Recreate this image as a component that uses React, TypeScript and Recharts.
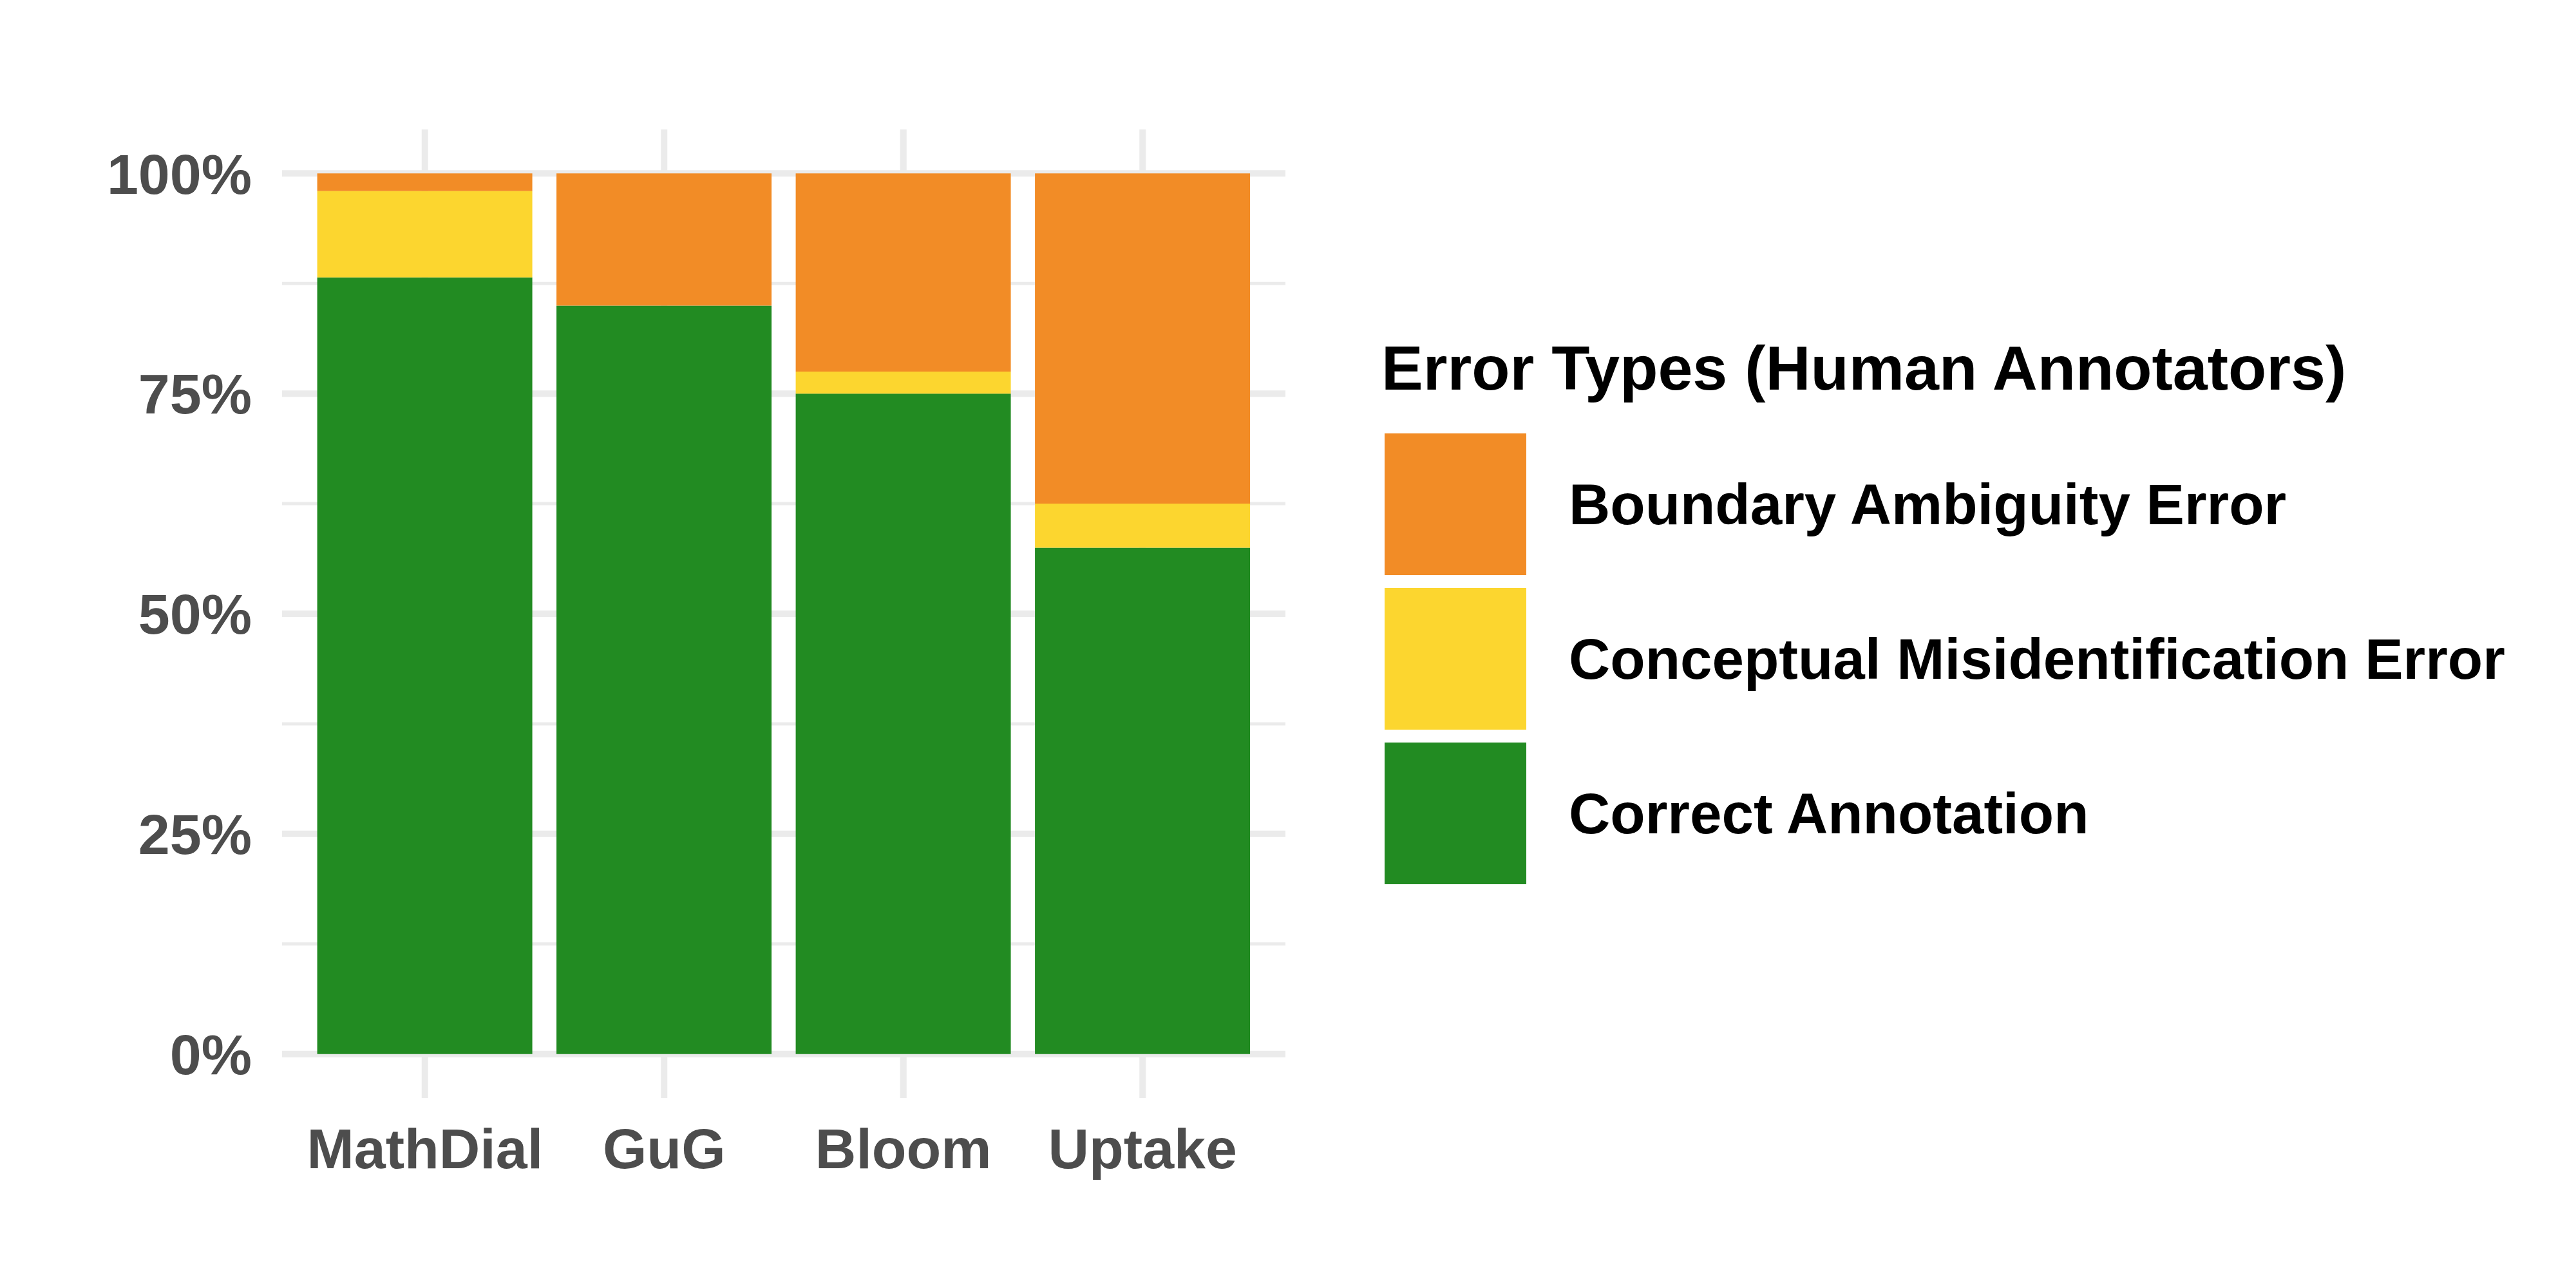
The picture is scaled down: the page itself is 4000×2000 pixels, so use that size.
import { Bar, BarChart, CartesianGrid, Legend, XAxis, YAxis } from "recharts";

const categories = ["MathDial", "GuG", "Bloom", "Uptake"];
const correctAnnotation = [88.2, 85, 75, 57.5];
const conceptualError = [9.8, 0, 2.5, 5];
const boundaryError = [2, 15, 22.5, 37.5];

const majorTicks = [0, 25, 50, 75, 100];
const minorTicks = [12.5, 37.5, 62.5, 87.5];

const FONT = "'Liberation Sans', Arial, Helvetica, sans-serif";
const GRID = "#ebebeb";

const data = categories.map((name, i) => ({
    name,
    correct: correctAnnotation[i],
    conceptual: conceptualError[i],
    boundary: boundaryError[i],
}));

// bottom of the stack first
const series = [
    { key: "correct", label: "Correct Annotation", color: "#228B22" },
    { key: "conceptual", label: "Conceptual Misidentification Error", color: "#FCD62F" },
    { key: "boundary", label: "Boundary Ambiguity Error", color: "#F28C26" },
];

function LegendBox(props: any) {
    // ggplot lists the top of the stack first
    const order = (v: string) => series.findIndex((s) => s.label === v);
    const items = [...(props.payload || [])].sort((a, b) => order(b.value) - order(a.value));
    return (
        <div style={{ position: "relative", width: 1800, height: 900, fontFamily: FONT, color: "#000" }}>
            <div
                style={{
                    position: "absolute",
                    left: 0,
                    top: 0,
                    fontSize: 97,
                    fontWeight: 700,
                    lineHeight: "97px",
                    whiteSpace: "nowrap",
                }}
            >
                Error Types (Human Annotators)
            </div>
            {items.map((entry: any, i: number) => (
                <div
                    key={`item-${i}`}
                    style={{
                        position: "absolute",
                        left: 5,
                        top: 150 + 240 * i,
                        height: 220,
                        display: "flex",
                        alignItems: "center",
                        whiteSpace: "nowrap",
                    }}
                >
                    <div style={{ width: 220, height: 220, background: entry.color }} />
                    <span style={{ marginLeft: 66, fontSize: 89, fontWeight: 700, lineHeight: "89px" }}>
                        {entry.value}
                    </span>
                </div>
            ))}
        </div>
    );
}

export default function App() {
    return (
        <div style={{ position: "absolute", left: 0, top: 0, background: "#fff" }}>
            <BarChart
                width={4000}
                height={2000}
                data={data}
                margin={{ top: 201, right: 2004, bottom: 0, left: 0 }}
                barCategoryGap="5%"
                style={{ fontFamily: FONT }}
            >
                <CartesianGrid
                    stroke={GRID}
                    strokeWidth={5}
                    vertical={false}
                    horizontalValues={minorTicks}
                    syncWithTicks
                />
                <CartesianGrid stroke={GRID} strokeWidth={10} horizontalValues={majorTicks} syncWithTicks />
                <XAxis
                    dataKey="name"
                    height={295}
                    axisLine={false}
                    tickLine={false}
                    tickSize={0}
                    tickMargin={47}
                    padding={{ left: 36, right: 36 }}
                    interval={0}
                    tick={{ fontSize: 88, fontWeight: 700, fill: "#4d4d4d" }}
                />
                <YAxis
                    width={438}
                    domain={[-5, 105]}
                    ticks={majorTicks}
                    allowDataOverflow
                    axisLine={false}
                    tickLine={false}
                    tickSize={0}
                    tickMargin={47}
                    tickFormatter={(v) => `${v}%`}
                    tick={{ fontSize: 88, fontWeight: 700, fill: "#4d4d4d" }}
                />
                {series.map((s) => (
                    <Bar
                        key={s.key}
                        dataKey={s.key}
                        name={s.label}
                        stackId="a"
                        fill={s.color}
                        isAnimationActive={false}
                    />
                ))}
                <Legend
                    layout="vertical"
                    align="center"
                    verticalAlign="middle"
                    content={<LegendBox />}
                    wrapperStyle={{ position: "absolute", left: 2145, top: 523, width: 1800, height: 900 }}
                />
            </BarChart>
        </div>
    );
}
